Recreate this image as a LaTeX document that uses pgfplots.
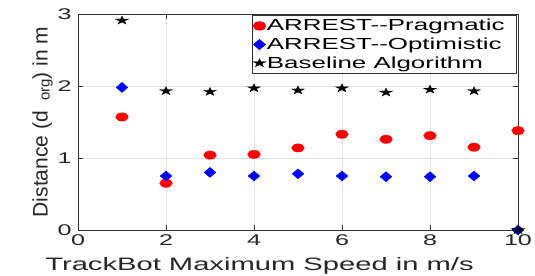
\documentclass[border=0pt]{standalone}
\usepackage{pgfplots}
\pgfplotsset{compat=1.18}
\usepackage{fontspec}
\setmainfont{Liberation Sans}[FakeStretch=1.62]
\newfontfamily\ylabfont{Liberation Sans}
\pgfdeclareplotmark{fstar}{%
  \pgfpathmoveto{\pgfqpointpolar{90}{\pgfplotmarksize}}%
  \pgfpathlineto{\pgfqpointpolar{126}{0.382\pgfplotmarksize}}%
  \pgfpathlineto{\pgfqpointpolar{162}{\pgfplotmarksize}}%
  \pgfpathlineto{\pgfqpointpolar{198}{0.382\pgfplotmarksize}}%
  \pgfpathlineto{\pgfqpointpolar{234}{\pgfplotmarksize}}%
  \pgfpathlineto{\pgfqpointpolar{270}{0.382\pgfplotmarksize}}%
  \pgfpathlineto{\pgfqpointpolar{306}{\pgfplotmarksize}}%
  \pgfpathlineto{\pgfqpointpolar{342}{0.382\pgfplotmarksize}}%
  \pgfpathlineto{\pgfqpointpolar{18}{\pgfplotmarksize}}%
  \pgfpathlineto{\pgfqpointpolar{54}{0.382\pgfplotmarksize}}%
  \pgfpathclose
  \pgfusepathqfillstroke}
\begin{document}
\begin{tikzpicture}
\path[use as bounding box] (-78bp,-46bp) rectangle (457bp,230bp);
\begin{axis}[
  at={(0,0)}, anchor=south west,
  scale only axis, width=440bp, height=216bp,
  xmin=0, xmax=10, ymin=0, ymax=3,
  xtick={0,2,4,6,8,10}, ytick={0,1,2,3},
  grid=major,
  major grid style={color=gray!22, line width=0.8bp},
  axis line style={color=black!80, line width=0.9bp},
  tick style={color=black!80, line width=0.8bp},
  tick align=inside, major tick length=5bp,
  /pgf/number format/assume math mode=true,
  ticklabel style={font=\fontsize{15.5bp}{18bp}\selectfont, color=black!85},
  xticklabel style={yshift=-1bp},
  yticklabel style={xshift=-3bp},
  xlabel={TrackBot Maximum Speed in m/s},
  xlabel style={font=\fontsize{18bp}{20bp}\selectfont, color=black!85, at={(axis description cs:0.4125,0)}, anchor=north, yshift=-24bp},
  ylabel={{\ylabfont Distance (d\hspace{10bp}\raisebox{-2bp}{\fontsize{15bp}{17bp}\selectfont org}) in m}},
  ylabel style={font=\fontsize{21bp}{23bp}\selectfont, color=black!85, yshift=-2bp},
  legend style={at={(1,1)}, anchor=north east, xshift=-1bp, yshift=-1bp,
    font=\fontsize{16bp}{18bp}\selectfont, draw=black!80, line width=0.8bp,
    inner xsep=1bp, inner ysep=2bp, row sep=1.5bp, cells={anchor=west},
    nodes={inner xsep=1bp}},
  legend image code/.code={\draw[#1] plot coordinates {(0.22cm,0cm)};},
]
\addplot[only marks, mark=*, mark size=4.15bp, mark options={xscale=1.53, fill=red, draw=red}] coordinates {
(1,1.57) (2,0.65) (3,1.04) (4,1.05) (5,1.14) (6,1.33) (7,1.26) (8,1.31) (9,1.15) (10,1.38)};
\addlegendentry{ARREST-{}-Pragmatic\hspace*{10bp}}
\addplot[only marks, mark=diamond*, mark size=5bp, mark options={xscale=1.56, fill=blue, draw=blue}] coordinates {
(1,1.98) (2,0.75) (3,0.80) (4,0.75) (5,0.78) (6,0.75) (7,0.74) (8,0.74) (9,0.75) (10,0)};
\addlegendentry{ARREST-{}-Optimistic}
\addplot[only marks, mark=fstar, mark size=4.4bp, mark options={xscale=1.55, fill=black, draw=black, line width=0.3bp}] coordinates {
(1,2.91) (2,1.93) (3,1.92) (4,1.97) (5,1.94) (6,1.97) (7,1.91) (8,1.95) (9,1.93) (10,0)};
\addlegendentry{Baseline Algorithm}
\end{axis}
\end{tikzpicture}
\end{document}
